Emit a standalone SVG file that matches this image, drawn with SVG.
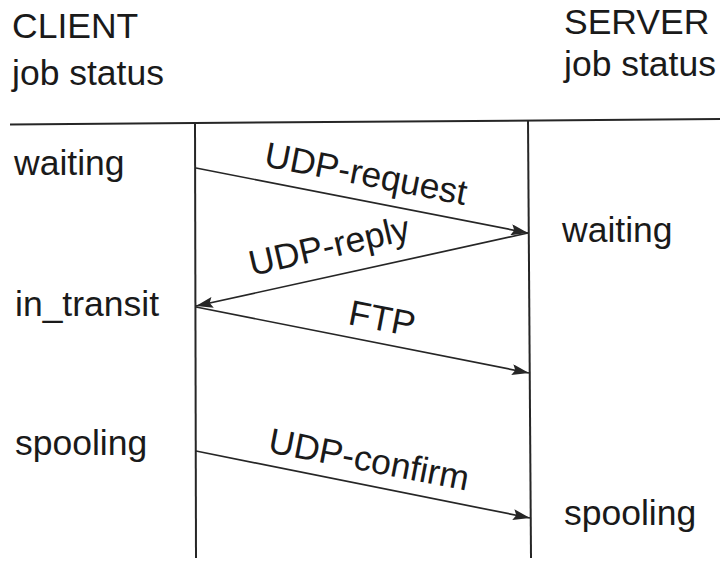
<svg xmlns="http://www.w3.org/2000/svg" width="722" height="561" viewBox="0 0 722 561">
  <style>
    text { font-family: "Liberation Sans", Arial, Helvetica, sans-serif; font-size: 35.5px; fill: #1a1a1a; }
    .rule { stroke: #262626; stroke-width: 2; fill: none; }
    .msg { stroke: #262626; stroke-width: 1.7; fill: none; marker-end: url(#head); }
  </style>
  <defs>
    <marker id="head" viewBox="0 0 17 11" refX="17" refY="5.5" markerWidth="17" markerHeight="11" markerUnits="userSpaceOnUse" orient="auto">
      <path d="M0,0 L17,5.5 L0,11 L3,5.5 Z" fill="#262626"/>
    </marker>
  </defs>

  <rect width="722" height="561" fill="#ffffff"/>

  <!-- column headings -->
  <g id="client-header">
    <text x="12" y="38">CLIENT</text>
    <text x="12" y="85">job status</text>
  </g>
  <g id="server-header">
    <text x="564" y="34">SERVER</text>
    <text x="564" y="76">job status</text>
  </g>

  <!-- timelines and heading rule -->
  <g id="lanes">
    <line class="rule" x1="10" y1="124.5" x2="720" y2="119"/>
    <line class="rule" x1="195" y1="124" x2="196" y2="558"/>
    <line class="rule" x1="528" y1="120" x2="531" y2="558"/>
  </g>

  <!-- client states -->
  <g id="client-waiting"><text x="14" y="175">waiting</text></g>
  <g id="client-in-transit"><text x="15" y="316">in_transit</text></g>
  <g id="client-spooling"><text x="15" y="455">spooling</text></g>

  <!-- server states -->
  <g id="server-waiting"><text x="562" y="242">waiting</text></g>
  <g id="server-spooling"><text x="564" y="525">spooling</text></g>

  <!-- messages -->
  <g id="connectors">
    <line class="msg" x1="196" y1="168" x2="528" y2="233"/>
    <line class="msg" x1="528" y1="233" x2="196" y2="306"/>
    <line class="msg" x1="196" y1="307" x2="529" y2="373"/>
    <line class="msg" x1="196" y1="451" x2="530" y2="518"/>
  </g>

  <g id="labels">
    <text transform="translate(263,166) rotate(11)">UDP-request</text>
    <text transform="translate(252,276) rotate(-13)">UDP-reply</text>
    <text transform="translate(347,324) rotate(11)">FTP</text>
    <text transform="translate(267,452) rotate(11)">UDP-confirm</text>
  </g>
</svg>
